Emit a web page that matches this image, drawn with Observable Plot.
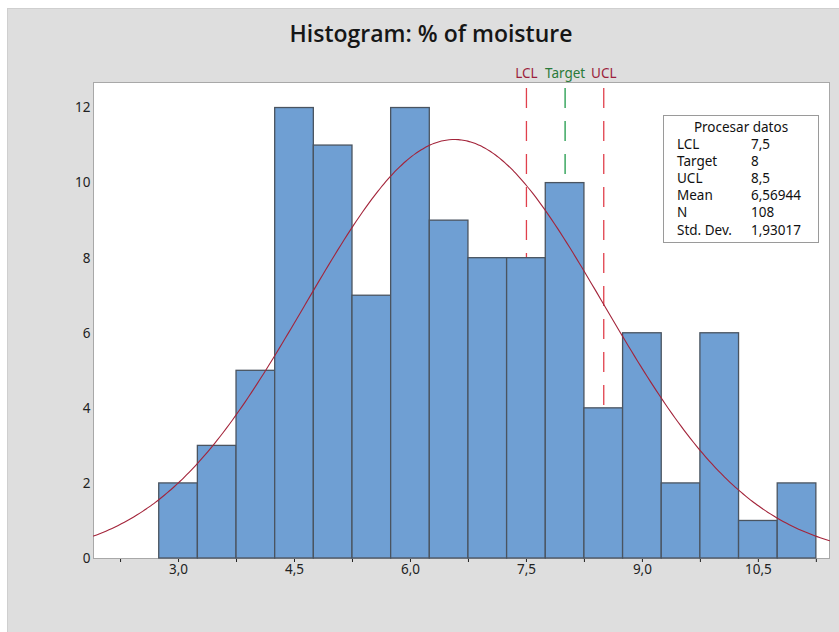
<!DOCTYPE html>
<html>
<head>
<meta charset="utf-8">
<script src="https://cdn.jsdelivr.net/npm/d3@7"></script>
<script src="https://cdn.jsdelivr.net/npm/@observablehq/plot@0.6"></script>
<style>
  html, body { margin: 0; padding: 0; background: #ffffff; width: 839px; height: 632px; overflow: hidden; }
  #panel { position: absolute; left: 7px; top: 8px; width: 832px; height: 624px; background: #dedede; border-left: 1px solid #cfcfcf; border-top: 1px solid #cfcfcf; box-sizing: border-box; }
  #chart { position: absolute; left: 0; top: 0; }
  #title { position: absolute; left: 0; width: 862px; top: 18px; line-height: 30px; text-align: center; font-family: "Open Sans", sans-serif; font-weight: 600; font-size: 23px; color: #161616; }
  #stats { position: absolute; left: 663px; top: 115px; width: 156px; height: 128px; box-sizing: border-box; border: 1px solid #9a9a9a; background: #fff; font-family: "Noto Sans", sans-serif; font-size: 13.5px; line-height: 17px; color: #111; }
  #stats .hd { position: absolute; left: 0; width: 100%; top: 3px; text-align: center; }
  #stats .row { position: absolute; left: 13px; }
  #stats .val { position: absolute; left: 87px; }
</style>
</head>
<body>
<div id="panel"></div>
<div id="chart"></div>
<div id="title">Histogram: % of moisture</div>
<div id="stats"></div>
<script>
// Histogram bins (lower edges, width 0.5) and counts
const binLower = [2.75, 3.25, 3.75, 4.25, 4.75, 5.25, 5.75, 6.25, 6.75, 7.25, 7.75, 8.25, 8.75, 9.25, 9.75, 10.25, 10.75];
const counts   = [2, 3, 5, 12, 11, 7, 12, 9, 8, 8, 10, 4, 6, 2, 6, 1, 2];
const binWidth = 0.5;

// Reference lines
const refNames  = ["LCL", "Target", "UCL"];
const refValues = [7.5, 8, 8.5];
const refColors = ["#e0404c", "#1f9a4a", "#e0404c"];
const refLabelColors = ["#9c1f3c", "#2a7a3a", "#9c1f3c"];

// Stats table (Procesar datos)
const statLabels = ["LCL", "Target", "UCL", "Mean", "N", "Std. Dev."];
const statValues = ["7,5", "8", "8,5", "6,56944", "108", "1,93017"];
const mean = 6.56944, sd = 1.93017, N = 108;

// Axis ticks
const xLabelTicks = [3, 4.5, 6, 7.5, 9, 10.5];
const xMinorTicks = [2.25, 3.75, 5.25, 6.75, 8.25, 9.75, 11.25];
const yTicks = [0, 2, 4, 6, 8, 10, 12];

const bins = binLower.map((lo, i) => ({x1: lo, x2: lo + binWidth, count: counts[i]}));
const refs = refValues.map((v, i) => ({name: refNames[i], value: v, color: refColors[i], lcolor: refLabelColors[i]}));

// Fitted normal curve from the table's Mean, Std. Dev. and N (scaled to counts)
const xs = d3.range(1.9, 11.43, 0.04);
const curve = xs.map(x => ({x, y: N * binWidth * Math.exp(-0.5 * ((x - mean) / sd) ** 2) / (sd * Math.sqrt(2 * Math.PI))}));

const allXTicks = [...xLabelTicks, ...xMinorTicks].sort((a, b) => a - b);
const fmt = d => xLabelTicks.includes(d) ? d.toFixed(1).replace(".", ",") : "";

const chart = Plot.plot({
  width: 839,
  height: 632,
  marginLeft: 93,
  marginRight: 10,
  marginTop: 82,
  marginBottom: 74,
  style: {background: "none", fontFamily: "Noto Sans, sans-serif", fontSize: "13.5px", color: "#222"},
  x: {domain: [1.9, 11.42], ticks: allXTicks, tickFormat: fmt, tickSize: 4, tickPadding: 2, label: null},
  y: {domain: [0, 12.68], ticks: yTicks, tickSize: 0, tickPadding: 3, label: null},
  marks: [
    Plot.frame({fill: "white", stroke: "#a8a8a8"}),
    Plot.ruleX(refs, {x: "value", y1: 12.52, y2: 0, stroke: "color", strokeWidth: 1.3, strokeDasharray: "20,13"}),
    Plot.rectY(bins, {x1: "x1", x2: "x2", y: "count", fill: "#6f9fd3", stroke: "#4a5460", strokeWidth: 1.3}),
    Plot.line(curve, {x: "x", y: "y", stroke: "#a3243a", strokeWidth: 1.1, curve: "natural"}),
    Plot.text(refs, {x: "value", text: "name", fill: "lcolor", frameAnchor: "top", lineAnchor: "middle", dy: -9, fontSize: 13.5})
  ]
});
document.getElementById("chart").appendChild(chart);

const stats = document.getElementById("stats");
const hd = document.createElement("div");
hd.className = "hd"; hd.textContent = "Procesar datos";
stats.appendChild(hd);
statLabels.forEach((lab, i) => {
  const top = 19.5 + i * 17.2;
  const a = document.createElement("div"); a.className = "row"; a.style.top = top + "px"; a.textContent = lab;
  const b = document.createElement("div"); b.className = "val"; b.style.top = top + "px"; b.textContent = statValues[i];
  stats.appendChild(a); stats.appendChild(b);
});
</script>
</body>
</html>
